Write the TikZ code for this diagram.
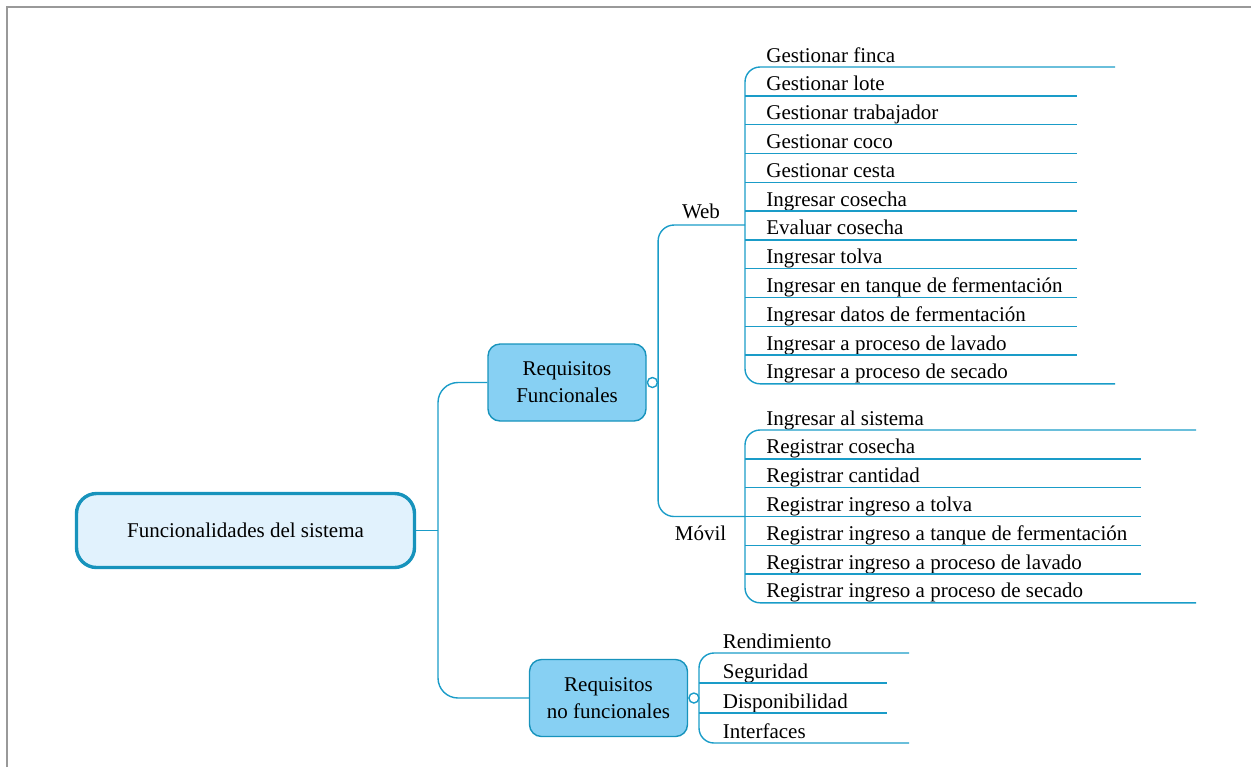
\documentclass[tikz,border=0pt]{standalone}
\usepackage{fontspec}
\setmainfont{Liberation Serif}
\definecolor{mmline}{HTML}{1A9CC8}
\definecolor{mmedge}{HTML}{1793BC}
\definecolor{mmroot}{HTML}{E1F2FD}
\definecolor{mmsub}{HTML}{87D0F3}
\tikzset{
  branch/.style={draw=mmline, line width=0.7pt},
  rootbox/.style={draw=mmedge, line width=1.7pt, fill=mmroot, rounded corners=10pt,
    minimum width=169pt, minimum height=37pt, font=\fontsize{10.5}{12}\selectfont},
  subbox/.style={draw=mmedge, line width=0.7pt, fill=mmsub, rounded corners=6pt,
    minimum width=79pt, minimum height=38.5pt, align=center, font=\fontsize{10.5}{13.5}\selectfont},
  knob/.style={circle, draw=mmline, fill=white, line width=0.7pt, inner sep=0pt, minimum size=5pt},
  leaf/.style={anchor=base west, inner sep=0pt, font=\fontsize{10.5}{12}\selectfont},
}
\begin{document}
\begin{tikzpicture}[x=0.5pt, y=-0.5pt]
\useasboundingbox (0,0) rectangle (1251,767);
\draw[gray!80, line width=0.6pt] (7,767) -- (7,7) -- (1251,7);

% main topic and its two branches
\node[rootbox] (root) at (245.5,530.5) {Funcionalidades del sistema};
\node[subbox] (rf) at (567,382.5) {Requisitos\\Funcionales};
\node[subbox] (rnf) at (608.5,698) {Requisitos\\no funcionales};
\coordinate (trunk) at (438,530.5);
\draw[branch] (root.east) -- (trunk);
\draw[branch, rounded corners=10pt] (rf.west) -- (trunk |- rf.west) -- (trunk |- rnf.west) -- (rnf.west);

% Web / Movil
\coordinate (webjoin) at (745,225);
\coordinate (movjoin) at (745,516.5);
\node[knob, anchor=west] (rfk) at (rf.east) {};
\draw[branch, rounded corners=8pt] (webjoin) -- (webjoin -| rfk.east) -- (movjoin -| rfk.east) -- (movjoin);
\node[leaf, anchor=base] (web) at (701,218) {Web};
\node[leaf, anchor=base] (movil) at (700.5,540) {Móvil};

% Web leaves
\foreach \t [count=\i] in {Gestionar finca, Gestionar lote, Gestionar trabajador, Gestionar coco,
    Gestionar cesta, Ingresar cosecha, Evaluar cosecha, Ingresar tolva,
    Ingresar en tanque de fermentación, Ingresar datos de fermentación,
    Ingresar a proceso de lavado, Ingresar a proceso de secado}{
  \coordinate (ws\i) at (745,{38.2+28.8*\i});
  \node[leaf] (w\i) at ([shift={(21,-5)}]ws\i) {\t};
}
\coordinate (wend) at (1077,0);
\coordinate (wfar) at (1115,0);
\foreach \i in {2,...,11} \draw[branch] (ws\i) -- (ws\i -| wend);
\draw[branch, rounded corners=7.5pt] (ws1 -| wfar) -- (ws1) -- (ws12) -- (ws12 -| wfar);

% Movil leaves
\foreach \t [count=\i] in {Ingresar al sistema, Registrar cosecha, Registrar cantidad,
    Registrar ingreso a tolva, Registrar ingreso a tanque de fermentación,
    Registrar ingreso a proceso de lavado, Registrar ingreso a proceso de secado}{
  \coordinate (ms\i) at (745,{401.2+28.8*\i});
  \node[leaf] (m\i) at ([shift={(21,-5)}]ms\i) {\t};
}
\coordinate (mend) at (1141,0);
\coordinate (mfar) at (1196,0);
\foreach \i in {2,...,6} \draw[branch] (ms\i) -- (ms\i -| mend);
\draw[branch, rounded corners=7.5pt] (ms1 -| mfar) -- (ms1) -- (ms7) -- (ms7 -| mfar);

% no funcionales
\node[knob, anchor=west] (rnfk) at (rnf.east) {};
\foreach \t [count=\i] in {Rendimiento, Seguridad, Disponibilidad, Interfaces}{
  \coordinate (ns\i) at (699,{623+30*\i});
  \node[leaf] (n\i) at ([shift={(23.5,-5)}]ns\i) {\t};
}
\coordinate (nend) at (887,0);
\coordinate (nfar) at (909,0);
\foreach \i in {2,3} \draw[branch] (ns\i) -- (ns\i -| nend);
\draw[branch, rounded corners=7.5pt] (ns1 -| nfar) -- (ns1) -- (ns4) -- (ns4 -| nfar);
\end{tikzpicture}
\end{document}
